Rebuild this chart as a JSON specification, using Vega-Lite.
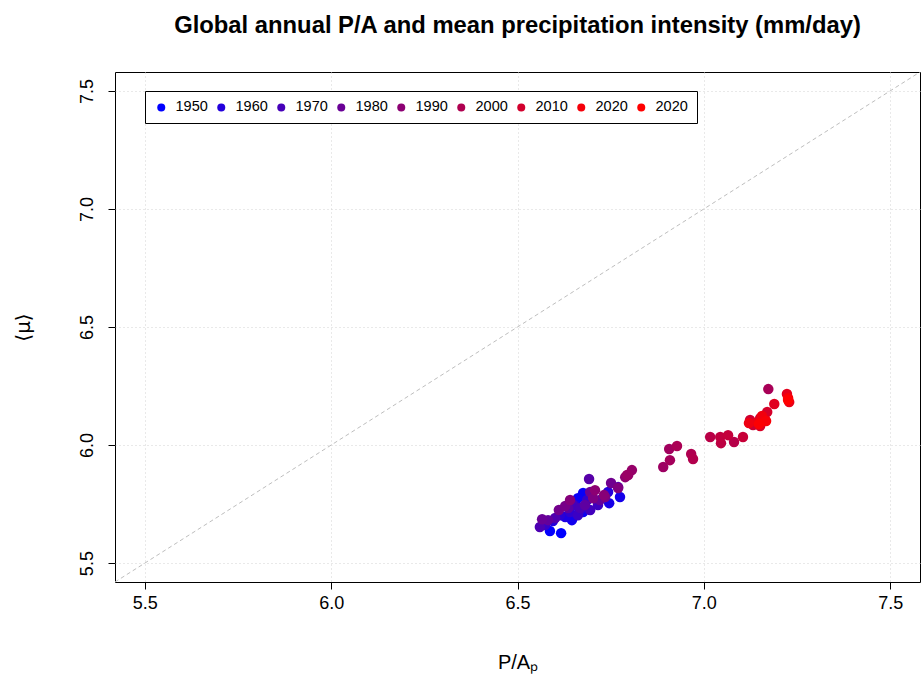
{
  "$schema": "https://vega.github.io/schema/vega-lite/v6.json",
  "autosize": "none",
  "width": 805,
  "height": 510,
  "padding": {"left": 115, "top": 72, "right": 3, "bottom": 92},
  "background": "white",
  "title": {
    "text": "Global annual P/A and mean precipitation intensity (mm/day)",
    "font": "Liberation Sans",
    "fontSize": 23.8,
    "fontWeight": "bold",
    "color": "black",
    "anchor": "middle",
    "offset": 34
  },
  "config": {
    "view": {"stroke": "black", "strokeWidth": 1},
    "axis": {
      "labelFont": "Liberation Sans",
      "labelFontSize": 18,
      "labelColor": "black",
      "titleFont": "Liberation Sans",
      "titleFontSize": 20,
      "titleFontWeight": "normal",
      "titleColor": "black",
      "tickColor": "black",
      "tickSize": 7,
      "domain": false,
      "grid": true,
      "gridColor": "#d3d3d3",
      "gridDash": [1, 3],
      "gridWidth": 1
    }
  },
  "datasets": {
    "pts": [
      {"year": 1950, "pa": 6.617, "mu": 5.627},
      {"year": 1951, "pa": 6.587, "mu": 5.636},
      {"year": 1952, "pa": 6.676, "mu": 5.797},
      {"year": 1953, "pa": 6.662, "mu": 5.775},
      {"year": 1954, "pa": 6.676, "mu": 5.716},
      {"year": 1955, "pa": 6.646, "mu": 5.682},
      {"year": 1956, "pa": 6.775, "mu": 5.780},
      {"year": 1957, "pa": 6.746, "mu": 5.754},
      {"year": 1958, "pa": 6.628, "mu": 5.695},
      {"year": 1959, "pa": 6.654, "mu": 5.746},
      {"year": 1960, "pa": 6.595, "mu": 5.678},
      {"year": 1961, "pa": 6.743, "mu": 5.801},
      {"year": 1962, "pa": 6.614, "mu": 5.703},
      {"year": 1963, "pa": 6.668, "mu": 5.725},
      {"year": 1964, "pa": 6.641, "mu": 5.716},
      {"year": 1965, "pa": 6.687, "mu": 5.767},
      {"year": 1966, "pa": 6.574, "mu": 5.661},
      {"year": 1967, "pa": 6.662, "mu": 5.703},
      {"year": 1968, "pa": 6.716, "mu": 5.746},
      {"year": 1969, "pa": 6.695, "mu": 5.725},
      {"year": 1970, "pa": 6.649, "mu": 5.746},
      {"year": 1971, "pa": 6.668, "mu": 5.733},
      {"year": 1972, "pa": 6.560, "mu": 5.653},
      {"year": 1973, "pa": 6.601, "mu": 5.691},
      {"year": 1974, "pa": 6.770, "mu": 5.822},
      {"year": 1975, "pa": 6.692, "mu": 5.856},
      {"year": 1976, "pa": 6.636, "mu": 5.733},
      {"year": 1977, "pa": 6.681, "mu": 5.746},
      {"year": 1978, "pa": 6.582, "mu": 5.682},
      {"year": 1979, "pa": 6.721, "mu": 5.767},
      {"year": 1980, "pa": 6.566, "mu": 5.686},
      {"year": 1981, "pa": 6.695, "mu": 5.801},
      {"year": 1982, "pa": 6.751, "mu": 5.839},
      {"year": 1983, "pa": 6.611, "mu": 5.725},
      {"year": 1984, "pa": 6.628, "mu": 5.742},
      {"year": 1985, "pa": 6.735, "mu": 5.780},
      {"year": 1986, "pa": 6.703, "mu": 5.775},
      {"year": 1987, "pa": 6.770, "mu": 5.818},
      {"year": 1988, "pa": 6.641, "mu": 5.767},
      {"year": 1989, "pa": 6.732, "mu": 5.788},
      {"year": 1990, "pa": 6.708, "mu": 5.809},
      {"year": 1991, "pa": 6.789, "mu": 5.864},
      {"year": 1992, "pa": 6.797, "mu": 5.873},
      {"year": 1993, "pa": 6.807, "mu": 5.894},
      {"year": 1994, "pa": 6.794, "mu": 5.873},
      {"year": 1995, "pa": 6.891, "mu": 5.907},
      {"year": 1996, "pa": 6.907, "mu": 5.983},
      {"year": 1997, "pa": 6.909, "mu": 5.936},
      {"year": 1998, "pa": 7.173, "mu": 6.237},
      {"year": 1999, "pa": 6.928, "mu": 5.996},
      {"year": 2000, "pa": 6.966, "mu": 5.962},
      {"year": 2001, "pa": 6.971, "mu": 5.941},
      {"year": 2002, "pa": 7.081, "mu": 6.013},
      {"year": 2003, "pa": 7.017, "mu": 6.034},
      {"year": 2004, "pa": 7.046, "mu": 6.008},
      {"year": 2005, "pa": 7.044, "mu": 6.034},
      {"year": 2006, "pa": 7.065, "mu": 6.042},
      {"year": 2007, "pa": 7.105, "mu": 6.034},
      {"year": 2008, "pa": 7.132, "mu": 6.085},
      {"year": 2009, "pa": 7.124, "mu": 6.106},
      {"year": 2010, "pa": 7.151, "mu": 6.114},
      {"year": 2011, "pa": 7.170, "mu": 6.140},
      {"year": 2012, "pa": 7.151, "mu": 6.081},
      {"year": 2013, "pa": 7.164, "mu": 6.106},
      {"year": 2014, "pa": 7.189, "mu": 6.174},
      {"year": 2015, "pa": 7.223, "mu": 6.216},
      {"year": 2016, "pa": 7.229, "mu": 6.182},
      {"year": 2017, "pa": 7.143, "mu": 6.097},
      {"year": 2018, "pa": 7.121, "mu": 6.093},
      {"year": 2019, "pa": 7.156, "mu": 6.123},
      {"year": 2020, "pa": 7.226, "mu": 6.199},
      {"year": 2021, "pa": 7.167, "mu": 6.102},
      {"year": 2022, "pa": 7.148, "mu": 6.089},
      {"year": 2023, "pa": 7.226, "mu": 6.191}
    ],
    "diag": [{"x": 5.42, "y": 5.42, "x2": 7.58, "y2": 7.58}],
    "leg": [
      {"lab": "1950"}, {"lab": "1960"}, {"lab": "1970"}, {"lab": "1980"},
      {"lab": "1990"}, {"lab": "2000"}, {"lab": "2010"}, {"lab": "2020"}, {"lab": "2020b"}
    ]
  },
  "layer": [
    {
      "data": {"name": "diag"},
      "mark": {"type": "rule", "color": "#bebebe", "strokeDash": [4, 3], "strokeWidth": 1, "clip": true},
      "encoding": {
        "x": {"field": "x", "type": "quantitative", "scale": {"domain": [5.42, 7.58], "nice": false, "zero": false},
              "axis": {"values": [5.5, 6, 6.5, 7, 7.5], "format": ".1f", "title": "P/Aₚ", "labelPadding": 5, "titlePadding": 40}},
        "y": {"field": "y", "type": "quantitative", "scale": {"domain": [5.42, 7.58], "nice": false, "zero": false},
              "axis": {"values": [5.5, 6, 6.5, 7, 7.5], "format": ".1f", "title": "⟨μ⟩", "titleFont": "DejaVu Sans", "labelAngle": -90, "labelAlign": "center", "labelBaseline": "bottom", "labelPadding": 12, "titlePadding": 45}},
        "x2": {"field": "x2"},
        "y2": {"field": "y2"}
      }
    },
    {
      "data": {"name": "pts"},
      "mark": {"type": "point", "filled": true, "size": 110, "opacity": 1, "shape": "circle"},
      "encoding": {
        "x": {"field": "pa", "type": "quantitative"},
        "y": {"field": "mu", "type": "quantitative"},
        "fill": {"field": "year", "type": "quantitative",
                 "scale": {"domain": [1950, 2023], "range": ["#0000ff", "#ff0000"], "interpolate": "rgb"},
                 "legend": null}
      }
    },
    {
      "data": {"name": "leg"},
      "mark": {"type": "point", "filled": true, "opacity": 0, "size": 1},
      "encoding": {
        "color": {"field": "lab", "type": "nominal",
          "scale": {"domain": ["1950", "1960", "1970", "1980", "1990", "2000", "2010", "2020", "2020b"],
                    "range": ["#0000ff", "#2300dc", "#4600b9", "#690096", "#8c0073", "#af0050", "#d2002d", "#f5000a", "#ff0000"]},
          "legend": {
            "title": null, "orient": "none", "legendX": 30, "legendY": 19, "direction": "horizontal",
            "columns": 9,
            "labelExpr": "datum.label == '2020b' ? '2020' : datum.label",
            "strokeColor": "black", "fillColor": "white", "padding": 9,
            "symbolType": "circle", "symbolSize": 64, "symbolOpacity": 1, "symbolStrokeWidth": 0,
            "labelFont": "Liberation Sans", "labelFontSize": 14.5, "labelColor": "black",
            "labelOffset": 7, "columnPadding": 6
          }
        }
      }
    }
  ]
}
